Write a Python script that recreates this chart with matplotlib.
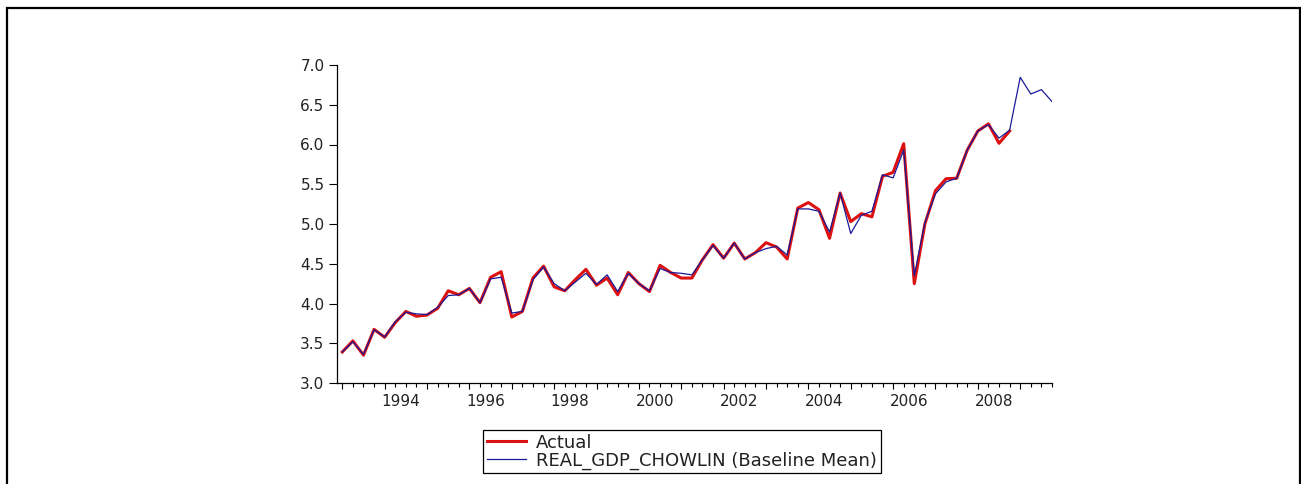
import numpy as np
import matplotlib
matplotlib.use('Agg')
from matplotlib import pyplot as plt
from matplotlib.patches import Rectangle

# 季度数据 1993Q1 开始
start_year = 1993
year_labels = ['1994', '1996', '1998', '2000', '2002', '2004', '2006', '2008']

# 实际值 (1993Q1 - 2008Q4)
actual = [3.39, 3.53, 3.35, 3.675, 3.575, 3.76, 3.90, 3.84,
          3.855, 3.94, 4.16, 4.11, 4.19, 4.01, 4.33, 4.40,
          3.83, 3.90, 4.32, 4.47, 4.21, 4.16, 4.30, 4.43,
          4.23, 4.32, 4.11, 4.39, 4.25, 4.15, 4.48, 4.39,
          4.32, 4.32, 4.55, 4.74, 4.57, 4.76, 4.56, 4.64,
          4.765, 4.71, 4.56, 5.20, 5.27, 5.18, 4.82, 5.39,
          5.03, 5.13, 5.09, 5.60, 5.65, 6.01, 4.25, 5.00,
          5.42, 5.57, 5.575, 5.93, 6.17, 6.26, 6.015, 6.17]

# Chow-Lin 估计 (1993Q1 - 2009Q4)
chowlin = [3.39, 3.52, 3.36, 3.67, 3.58, 3.77, 3.89, 3.87,
           3.86, 3.95, 4.10, 4.11, 4.19, 4.01, 4.31, 4.33,
           3.88, 3.90, 4.30, 4.46, 4.25, 4.16, 4.27, 4.38,
           4.24, 4.36, 4.15, 4.38, 4.25, 4.16, 4.44, 4.39,
           4.38, 4.36, 4.55, 4.73, 4.57, 4.76, 4.56, 4.64,
           4.69, 4.72, 4.61, 5.19, 5.19, 5.16, 4.90, 5.39,
           4.88, 5.11, 5.16, 5.62, 5.58, 5.93, 4.35, 5.02,
           5.38, 5.53, 5.575, 5.93, 6.17, 6.25, 6.08, 6.18,
           6.845, 6.635, 6.69, 6.54]

W, H = 1301, 484
fig = plt.figure(figsize=(W / 100, H / 100), dpi=100)
# 外框
fig.patches.append(Rectangle((7 / W, -0.02), (1300 - 7) / W, 1.02 - 8 / H,
                             transform=fig.transFigure, fill=False,
                             edgecolor='black', linewidth=1.6))

ax = fig.add_axes([337 / W, 1 - 383 / H, (1052 - 337) / W, (383 - 65) / H])
x = np.arange(len(chowlin))
ax.plot(x[:len(actual)], actual, color='#dd1010', linewidth=2.2, label='Actual')
ax.plot(x, chowlin, color='#1a1a99', linewidth=0.9,
        label='REAL_GDP_CHOWLIN (Baseline Mean)')

ax.set_xlim(-0.5, len(chowlin) - 1)
ax.set_ylim(3.0, 7.0)
for s in ['top', 'right']:
    ax.spines[s].set_visible(False)
for s in ['left', 'bottom']:
    ax.spines[s].set_linewidth(0.9)

yt = np.arange(3.0, 7.01, 0.5)
ax.set_yticks(yt)
ax.set_yticklabels(['%.1f' % v for v in yt], fontsize=11, family='DejaVu Sans',
                   color='#222222')
ax.tick_params(axis='y', direction='out', length=5.5, width=0.8, pad=3.5)

# 每季度一个小刻度，每年第一季度一个大刻度
ax.set_xticks(x[::4])
ax.set_xticklabels([''] * len(x[::4]))
ax.set_xticks(x, minor=True)
ax.tick_params(axis='x', which='major', direction='out', length=4.5, width=0.8)
ax.tick_params(axis='x', which='minor', direction='out', length=2.6, width=0.8)

for lab in year_labels:
    pos = (int(lab) - start_year) * 4 + 1.5
    ax.text(pos, 3.0 - 11 / 79.5, lab, ha='center', va='top', fontsize=11,
            family='DejaVu Sans', color='#222222', clip_on=False)

leg = ax.legend(loc='upper left', bbox_to_anchor=(483 / W, 1 - 430 / H),
                bbox_transform=fig.transFigure, frameon=True, fancybox=False,
                edgecolor='black', framealpha=1, borderpad=0.2,
                labelspacing=0.0, handlelength=2.2, handletextpad=0.55,
                borderaxespad=0, prop={'family': 'DejaVu Sans', 'size': 13})
leg.get_frame().set_linewidth(0.9)
for t in leg.get_texts():
    t.set_color('#222222')

fig.savefig('out.png', dpi=100)
